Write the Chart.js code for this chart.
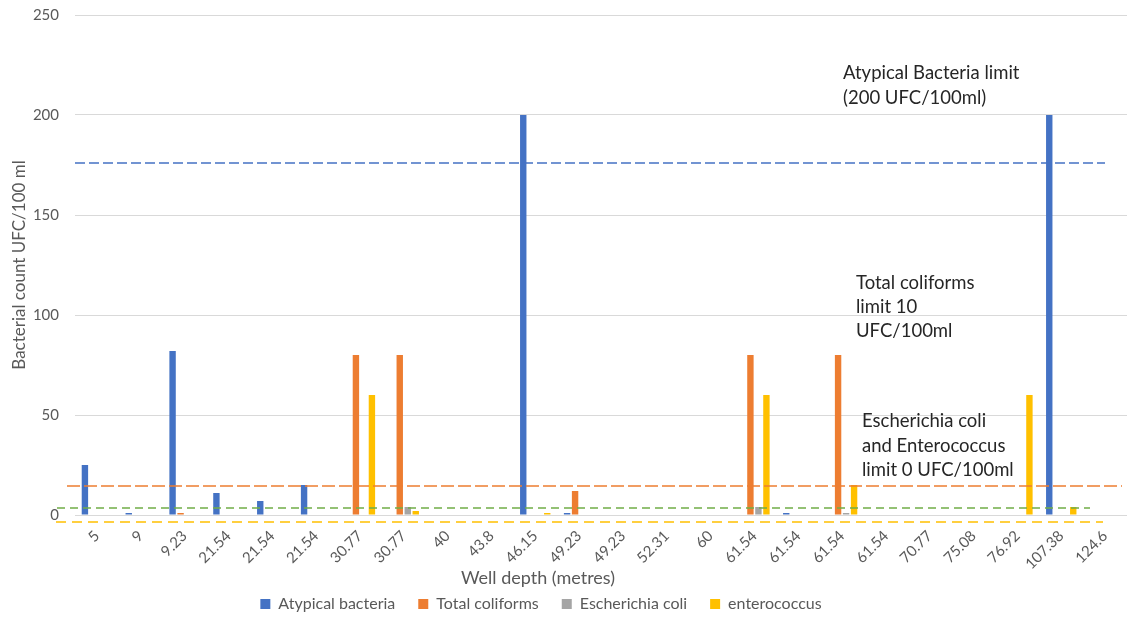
<!DOCTYPE html>
<html>
<head>
<meta charset="utf-8">
<script src="https://cdn.jsdelivr.net/npm/chart.js@4.4.1/dist/chart.umd.min.js"></script>
<style>
  html, body { margin: 0; padding: 0; background: #fff; }
  #wrap { width: 1127px; height: 618px; }
</style>
</head>
<body>
<div id="wrap"><canvas id="bacteria_chart" width="1127" height="618"></canvas></div>
<script>
// well depths (x categories)
var depthLabels = ['5', '9', '9.23', '21.54', '21.54', '21.54', '30.77', '30.77', '40', '43.8',
    '46.15', '49.23', '49.23', '52.31', '60', '61.54', '61.54', '61.54', '61.54', '70.77',
    '75.08', '76.92', '107.38', '124.6'];

// bacterial counts UFC/100 ml
var atypicalBacteria = [25, 1, 82, 11, 7, 15, 0, 0, 0, 0, 200, 1, 0, 0, 0, 0, 1, 0, 0, 0, 0, 0, 200, 0];
var totalColiforms   = [0, 0, 1, 0, 0, 0, 80, 80, 0, 0, 0, 12, 0, 0, 0, 80, 0, 80, 0, 0, 0, 0, 0, 0];
var escherichiaColi  = [0, 0, 0, 0, 0, 0, 0, 4, 0, 0, 0, 0, 0, 0, 0, 4, 0, 1, 0, 0, 0, 0, 0, 0];
var enterococcus     = [0, 0, 0, 0, 0, 0, 60, 2, 0, 0, 1, 0, 0, 0, 0, 60, 0, 15, 0, 0, 0, 60, 4, 0];

// levels where the dashed limit lines sit (as drawn in the picture)
var limitLevels = [176, 14.7, 3.3, -3.3];

var yTicks = [0, 50, 100, 150, 200, 250];

var limitNotes = [
    ['Atypical Bacteria limit', '(200 UFC/100ml)'],
    ['Total coliforms', 'limit 10', 'UFC/100ml'],
    ['Escherichia coli', 'and Enterococcus', 'limit 0 UFC/100ml']
];

var FONT = 'Lato';
var GREY_TEXT = '#595959';

var limitLinesPlugin = {
    id: 'limitLines',
    afterDatasetsDraw: function (chart, args, opts) {
        var ctx = chart.ctx;
        var y = chart.scales.y;
        opts.lines.forEach(function (ln, i) {
            var py = Math.round(y.getPixelForValue(limitLevels[i]));
            ctx.save();
            ctx.strokeStyle = ln.color;
            ctx.lineWidth = ln.width;
            ctx.setLineDash(ln.dash);
            ctx.beginPath();
            ctx.moveTo(ln.from, py);
            ctx.lineTo(ln.to, py);
            ctx.stroke();
            ctx.restore();
        });
    }
};

var notesPlugin = {
    id: 'notes',
    afterLayout: function (chart, args, opts) {
        // legend in the picture is centred left of the canvas middle
        var legend = chart.legend;
        legend.left += opts.legendShift;
        legend.right += opts.legendShift;
    },
    afterDraw: function (chart, args, opts) {
        var ctx = chart.ctx;
        ctx.save();
        ctx.textBaseline = 'alphabetic';
        ctx.fillStyle = '#262626';
        ctx.font = opts.noteSize + 'px ' + FONT;
        ctx.textAlign = 'left';
        opts.boxes.forEach(function (b, i) {
            limitNotes[i].forEach(function (line, j) {
                ctx.fillText(line, b.x, b.y + j * b.lineHeight);
            });
        });
        // x axis title
        ctx.fillStyle = GREY_TEXT;
        ctx.font = '18px ' + FONT;
        ctx.textAlign = 'center';
        ctx.textBaseline = 'middle';
        ctx.fillText(opts.xTitle.text, opts.xTitle.x, opts.xTitle.y);
        ctx.restore();
    }
};

var ctx = document.getElementById('bacteria_chart');
var bacteriaChart = new Chart(ctx, {
    type: 'bar',
    data: {
        labels: depthLabels,
        datasets: [{
            label: 'Atypical bacteria',
            data: atypicalBacteria,
            backgroundColor: '#4472C4',
        }, {
            label: 'Total coliforms',
            data: totalColiforms,
            backgroundColor: '#ED7D31',
        }, {
            label: 'Escherichia coli',
            data: escherichiaColi,
            backgroundColor: '#A5A5A5',
        }, {
            label: 'enterococcus',
            data: enterococcus,
            backgroundColor: '#FFC000',
        }]
    },
    options: {
        responsive: false,
        animation: false,
        devicePixelRatio: 1,
        categoryPercentage: 0.73,
        barPercentage: 0.8,
        layout: { padding: { top: 15, left: 0, right: 0, bottom: -4 } },
        scales: {
            x: {
                grid: { display: false },
                border: { display: false },
                ticks: {
                    autoSkip: false,
                    minRotation: 45,
                    maxRotation: 45,
                    padding: 4,
                    color: GREY_TEXT,
                    font: { family: FONT, size: 15 }
                },
                afterFit: function (scale) { scale.height = 58; }
            },
            y: {
                min: 0,
                max: 250,
                afterBuildTicks: function (scale) {
                    scale.ticks = yTicks.map(function (v) { return { value: v }; });
                },
                grid: { color: '#D9D9D9', drawTicks: false },
                border: { display: false },
                ticks: {
                    padding: 16,
                    color: GREY_TEXT,
                    font: { family: FONT, size: 15 }
                },
                title: {
                    display: true,
                    text: 'Bacterial count UFC/100 ml',
                    color: GREY_TEXT,
                    font: { family: FONT, size: 17 },
                    padding: { top: 9, bottom: 0 }
                },
                afterFit: function (scale) {
                    scale.width = 75;
                    scale.paddingTop = 0;
                    scale.paddingBottom = 0;
                }
            }
        },
        plugins: {
            tooltip: { enabled: false },
            legend: {
                position: 'bottom',
                labels: {
                    boxWidth: 10,
                    boxHeight: 10,
                    padding: 23,
                    color: GREY_TEXT,
                    font: { family: FONT, size: 16 }
                }
            },
            limitLines: {
                lines: [
                    { color: '#4472C4', width: 1.3, dash: [10, 4], from: 75, to: 1105 },
                    { color: '#ED7D31', width: 1.6, dash: [13, 4], from: 67, to: 1122 },
                    { color: '#70AD47', width: 1.5, dash: [8, 5], from: 57, to: 1090 },
                    { color: '#FFC000', width: 1.5, dash: [10, 6], from: 56, to: 1103 }
                ]
            },
            notes: {
                legendShift: -22.5,
                noteSize: 18.5,
                boxes: [
                    { x: 843, y: 79, lineHeight: 25 },
                    { x: 856, y: 289, lineHeight: 24 },
                    { x: 862, y: 427, lineHeight: 24.5 }
                ],
                xTitle: { text: 'Well depth (metres)', x: 538, y: 578 }
            }
        }
    },
    plugins: [limitLinesPlugin, notesPlugin]
});
</script>
</body>
</html>
